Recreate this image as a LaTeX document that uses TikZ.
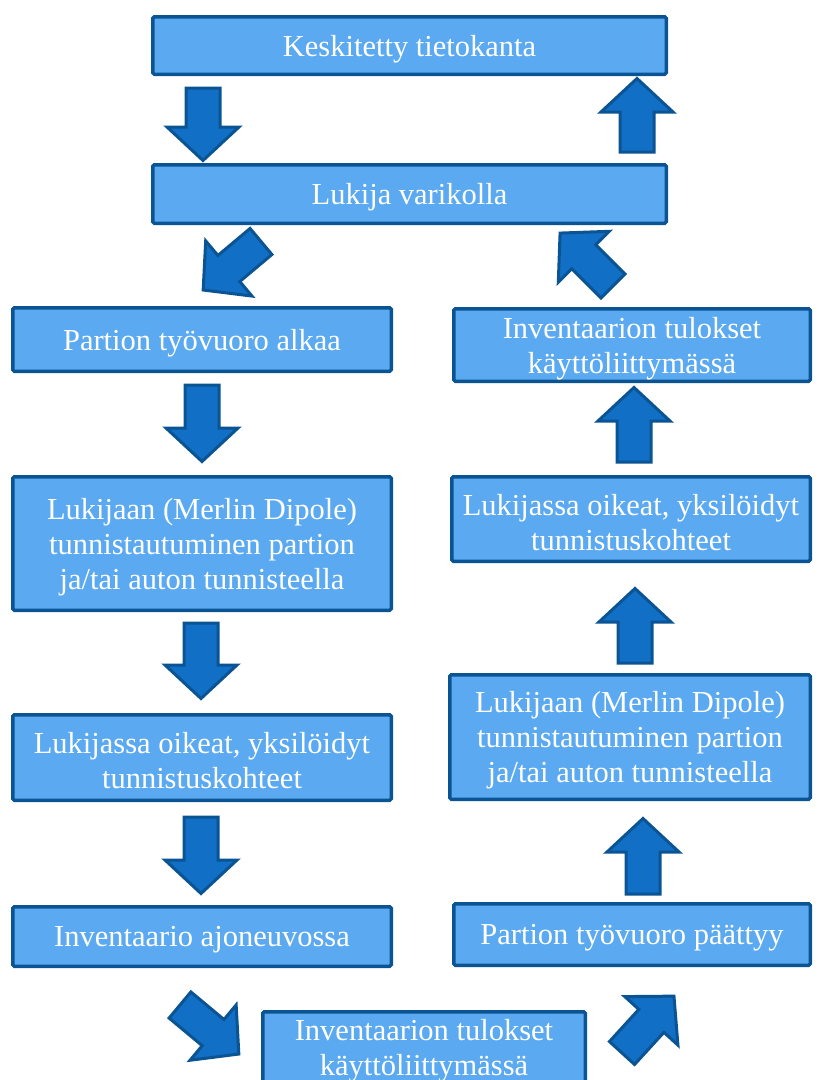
\documentclass[tikz,border=0pt]{standalone}
\usepackage{fontspec}
\setmainfont{Liberation Serif}
\usetikzlibrary{calc}
\definecolor{boxfill}{RGB}{91,169,240}
\definecolor{boxline}{RGB}{11,84,148}
\definecolor{arrfill}{RGB}{17,111,198}
\tikzset{
  box/.style={draw=boxline, fill=boxfill, line width=3.5pt, rounded corners=1.5pt, inner sep=0pt},
  boxtext/.style={text=white, align=center, font=\fontsize{30.5}{35}\selectfont, inner sep=0pt},
  barrow/.style={draw=boxline, fill=arrfill, line width=3pt, line join=miter},
}
\newcommand\flowbox[6]{%
  \node[box, minimum width=#4, minimum height=#5] (#1) at (#2,#3) {};
  \node[boxtext] (#1-t) at ([yshift=-3.5]#1.center) {#6};}
\newcommand\blockarrow[2]{%
  \draw[barrow] let \p1=($(#2)-(#1)$), \n1={atan2(\y1,\x1)}, \n2={veclen(\x1,\y1)} in
   [shift={(#1)}, rotate=\n1] (0,-17) -- ({\n2-35},-17) -- ({\n2-35},-36) -- ({\n2-1.5},0)
   -- ({\n2-35},36) -- ({\n2-35},17) -- (0,17) -- cycle;}
\begin{document}
\begin{tikzpicture}[x=1pt,y=1pt]
\useasboundingbox (0,0) rectangle (822,-1080);
\clip (0,0) rectangle (822,-1080);
% boxes
\flowbox{b1}{409.5}{-45.5}{513.5}{57.5}{Keskitetty tietokanta}
\flowbox{b2}{409.5}{-194}{513.5}{58.5}{Lukija varikolla}
\flowbox{l1}{202}{-339.5}{378.5}{63.5}{Partion työvuoro alkaa}
\flowbox{l2}{202}{-543.5}{378.5}{133.5}{Lukijaan (Merlin Dipole)\\tunnistautuminen partion\\ja/tai auton tunnisteella}
\flowbox{l3}{202}{-757.5}{378.5}{85.5}{Lukijassa oikeat, yksilöidyt\\tunnistuskohteet}
\flowbox{l4}{202}{-936.5}{378.5}{59.5}{Inventaario ajoneuvossa}
\node[box, minimum width=322.5, minimum height=86.5] (bb) at (424,-1055) {};
\node[boxtext] (bb-t) at ([yshift=4]bb.center) {Inventaarion tulokset\\käyttöliittymässä};
\flowbox{r3}{632}{-345}{356.5}{72.5}{Inventaarion tulokset\\käyttöliittymässä}
\flowbox{r4}{631}{-519}{358.5}{84.5}{Lukijassa oikeat, yksilöidyt\\tunnistuskohteet}
\flowbox{r5}{630}{-737}{360.5}{124.5}{Lukijaan (Merlin Dipole)\\tunnistautuminen partion\\ja/tai auton tunnisteella}
\flowbox{r6}{632}{-934.5}{356.5}{61.5}{Partion työvuoro päättyy}
% arrow end points
\coordinate (a1s) at (203,-88);   \coordinate (a1e) at (203,-162);
\coordinate (a2s) at (637,-152);  \coordinate (a2e) at (637,-77);
\coordinate (a3s) at (261,-241.5);\coordinate (a3e) at (202,-291);
\coordinate (a4s) at (613,-286);  \coordinate (a4e) at (559,-232);
\coordinate (a5s) at (202,-385);  \coordinate (a5e) at (202,-463);
\coordinate (a6s) at (201,-623);  \coordinate (a6e) at (201,-700);
\coordinate (a7s) at (201,-817);  \coordinate (a7e) at (201,-895);
\coordinate (a8s) at (180,-1005); \coordinate (a8e) at (240,-1055);
\coordinate (a9s) at (622,-1053); \coordinate (a9e) at (675,-995);
\coordinate (a10s) at (643,-894); \coordinate (a10e) at (643,-817);
\coordinate (a11s) at (635,-663); \coordinate (a11e) at (635,-587);
\coordinate (a12s) at (634,-462); \coordinate (a12e) at (634,-386);
\blockarrow{a1s}{a1e}
\blockarrow{a2s}{a2e}
\blockarrow{a3s}{a3e}
\blockarrow{a4s}{a4e}
\blockarrow{a5s}{a5e}
\blockarrow{a6s}{a6e}
\blockarrow{a7s}{a7e}
\blockarrow{a8s}{a8e}
\blockarrow{a9s}{a9e}
\blockarrow{a10s}{a10e}
\blockarrow{a11s}{a11e}
\blockarrow{a12s}{a12e}
\end{tikzpicture}
\end{document}
